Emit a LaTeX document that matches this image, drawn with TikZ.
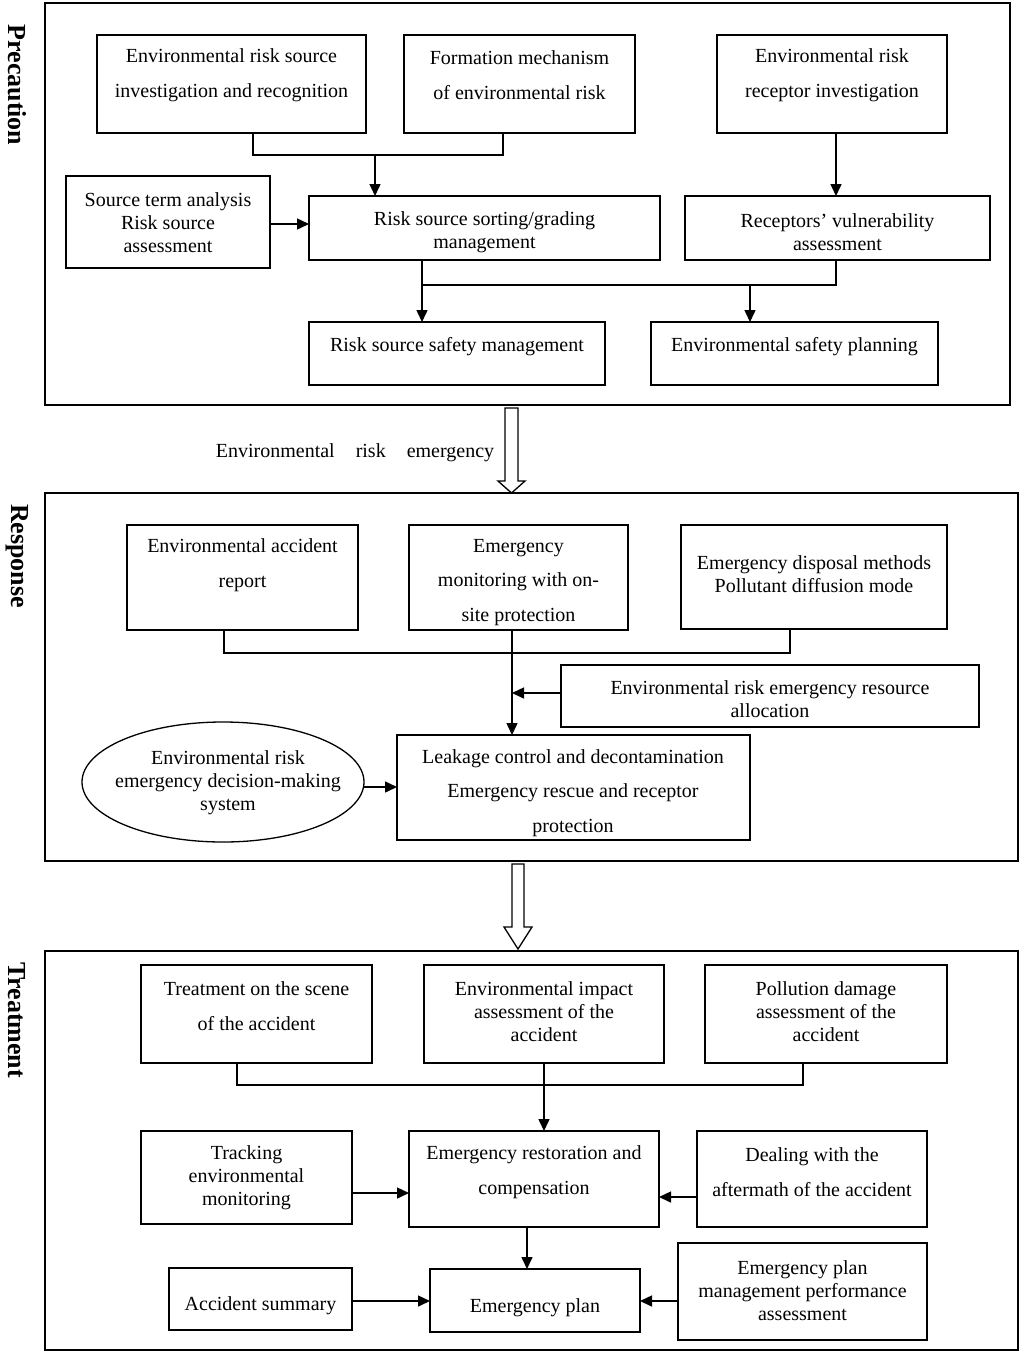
\documentclass[tikz,border=0pt]{standalone}
\usepackage{fontspec}
\setmainfont{Liberation Serif}
\usetikzlibrary{arrows.meta,shapes.geometric}
\tikzset{
  bx/.style={draw, line width=1.3pt, rectangle, inner sep=0pt, outer sep=0pt},
  frm/.style={draw, line width=1.4pt, rectangle, inner sep=0pt, outer sep=0pt},
  tw/.style={align=center, inner sep=0pt, yshift=-2.5pt, font=\fontsize{20}{35}\selectfont},
  tm/.style={align=center, inner sep=0pt, yshift=-2.5pt, font=\fontsize{20}{34.5}\selectfont},
  tn/.style={align=center, inner sep=0pt, yshift=-2.5pt, font=\fontsize{20}{23}\selectfont},
  sec/.style={rotate=-90, inner sep=0pt, font=\fontsize{26}{28}\selectfont\bfseries},
  ln/.style={line width=1.5pt},
  arr/.style={line width=1.5pt, -{Triangle[length=12pt,width=11pt]}},
  hol/.style={draw, line width=1.3pt, line join=miter},
}
\newcommand{\bxat}[6][bx]{\node[#1, minimum width={#5pt-#3pt}, minimum height={#6pt-#4pt}] (#2) at ({(#3+#5)/2},{(#4+#6)/2}) {};}
\begin{document}
\begin{tikzpicture}[x=1pt,y=-1pt]
\useasboundingbox (0,0) rectangle (1024,1355);
% frames
\bxat[frm]{fp}{45}{3}{1010}{405}
\bxat[frm]{fr}{45}{493}{1018}{861}
\bxat[frm]{ft}{45}{951}{1018}{1350}
\node[sec] (sp) at (17,85) {Precaution};
\node[sec] (sr) at (17,556) {Response};
\node[sec] (st) at (17,1020) {Treatment};

% ---------- Precaution ----------
\bxat{a1}{97}{35}{366}{133}
\bxat{a2}{404}{35}{635}{133}
\bxat{a3}{717}{35}{947}{133}
\node[tw] (a1t) at (231.5,72.5) {Environmental risk source\\investigation and recognition};
\node[tw] (a2t) at (519.5,72.5) {Formation mechanism\\of environmental risk};
\node[tw] (a3t) at (832,72.5) {Environmental risk\\receptor investigation};

\bxat{b1}{66}{176}{270}{268}
\bxat{b2}{309}{196}{660}{260}
\bxat{b3}{685}{196}{990}{260}
\node[tn] (b1t) at (168,220) {Source term analysis\\Risk source\\assessment};
\node[tn] (b2t) at (484.5,229.5) {Risk source sorting/grading\\management};
\node[tn] (b3t) at (837.5,229.5) {Receptors’ vulnerability\\assessment};

\bxat{c1}{309}{322}{605}{385}
\bxat{c2}{651}{322}{938}{385}
\node[tn] (c1t) at (457,344) {Risk source safety management};
\node[tn] (c2t) at (794.5,344) {Environmental safety planning};

\coordinate (j1) at (253,155);
\coordinate (j2) at (503,155);
\coordinate (k1) at (375,155);
\draw[ln] (a1.south -| j1) -- (j1) -- (j2) -- (a2.south -| j2);
\draw[arr] (k1) -- (k1 |- b2.north);
\coordinate (k2) at (836,133);
\draw[arr] (a3.south -| k2) -- (b3.north -| k2);
\coordinate (k3) at (270,224);
\draw[arr] (b1.east |- k3) -- (b2.west |- k3);

\coordinate (m1) at (422,285);
\coordinate (m2) at (836,285);
\coordinate (m3) at (750,285);
\draw[ln] (b2.south -| m1) -- (m1) -- (m2) -- (b3.south -| m2);
\draw[arr] (m1) -- (c1.north -| m1);
\draw[arr] (m3) -- (c2.north -| m3);

% hollow arrow 1
\draw[hol] (505,408) -- (518,408) -- (518,481) -- (525,481) -- (511.5,493) -- (498,481) -- (505,481) -- cycle;
\node[tn] (emg) at (355,450) {Environmental\hspace{21pt}risk\hspace{21pt}emergency};

% ---------- Response ----------
\bxat{d1}{127}{525}{358}{630}
\bxat{d2}{409}{525}{628}{630}
\bxat{d3}{681}{525}{947}{629}
\node[tw] (d1t) at (242.5,563) {Environmental accident\\report};
\node[tm] (d2t) at (518.5,580) {Emergency\\monitoring with on-\\site protection};
\node[tn] (d3t) at (814,571.5) {Emergency disposal methods\\Pollutant diffusion mode};

\coordinate (n1) at (224,653);
\coordinate (n3) at (790,653);
\coordinate (n2) at (512,653);
\draw[ln] (d1.south -| n1) -- (n1) -- (n3) -- (d3.south -| n3);

\bxat{e1}{561}{665}{979}{727}
\node[tn] (e1t) at (770,696.5) {Environmental risk emergency resource\\allocation};
\bxat{e2}{397}{735}{750}{840}
\node[tm] (e2t) at (573,790.5) {Leakage control and decontamination\\Emergency rescue and receptor\\protection};
\draw[arr] (d2.south -| n2) -- (e2.north -| n2);
\coordinate (p1) at (561,693);
\draw[arr] (e1.west |- p1) -- (n2 |- p1);

\node[draw, ellipse, line width=1.3pt, minimum width=282pt, minimum height=120pt, inner sep=0pt, outer sep=0pt] (el) at (223,782) {};
\node[tn] (elt) at (228,780) {Environmental risk\\emergency decision-making\\system};
\coordinate (p2) at (364,787);
\draw[arr] (p2) -- (e2.west |- p2);

% hollow arrow 2
\draw[hol] (512,864) -- (524,864) -- (524,927) -- (532,927) -- (518,949) -- (504,927) -- (512,927) -- cycle;

% ---------- Treatment ----------
\bxat{f1}{141}{965}{372}{1063}
\bxat{f2}{424}{965}{664}{1063}
\bxat{f3}{705}{965}{947}{1063}
\node[tw] (f1t) at (256.5,1003.5) {Treatment on the scene\\of the accident};
\node[tn] (f2t) at (544,1009) {Environmental impact\\assessment of the\\accident};
\node[tn] (f3t) at (826,1009) {Pollution damage\\assessment of the\\accident};

\coordinate (r1) at (237,1085);
\coordinate (r3) at (803,1085);
\coordinate (r2) at (544,1085);
\draw[ln] (f1.south -| r1) -- (r1) -- (r3) -- (f3.south -| r3);

\bxat{g1}{141}{1131}{352}{1224}
\bxat{g2}{409}{1131}{659}{1227}
\bxat{g3}{697}{1131}{927}{1227}
\node[tn] (g1t) at (246.5,1175) {Tracking\\environmental\\monitoring};
\node[tw] (g2t) at (534,1169.5) {Emergency restoration and\\compensation};
\node[tw] (g3t) at (812,1169.5) {Dealing with the\\aftermath of the accident};
\draw[arr] (f2.south -| r2) -- (g2.north -| r2);
\coordinate (s1) at (352,1193);
\coordinate (s2) at (697,1197);
\draw[arr] (g1.east |- s1) -- (g2.west |- s1);
\draw[arr] (g3.west |- s2) -- (g2.east |- s2);

\bxat{h1}{169}{1268}{352}{1330}
\bxat{h2}{430}{1269}{640}{1332}
\bxat{h3}{678}{1243}{927}{1340}
\node[tn] (h1t) at (260.5,1303) {Accident summary};
\node[tn] (h2t) at (535,1305) {Emergency plan};
\node[tn] (h3t) at (802.5,1288) {Emergency plan\\management performance\\assessment};
\coordinate (u1) at (527,1227);
\draw[arr] (g2.south -| u1) -- (h2.north -| u1);
\coordinate (u2) at (352,1301);
\draw[arr] (h1.east |- u2) -- (h2.west |- u2);
\draw[arr] (h3.west |- u2) -- (h2.east |- u2);
\end{tikzpicture}
\end{document}
